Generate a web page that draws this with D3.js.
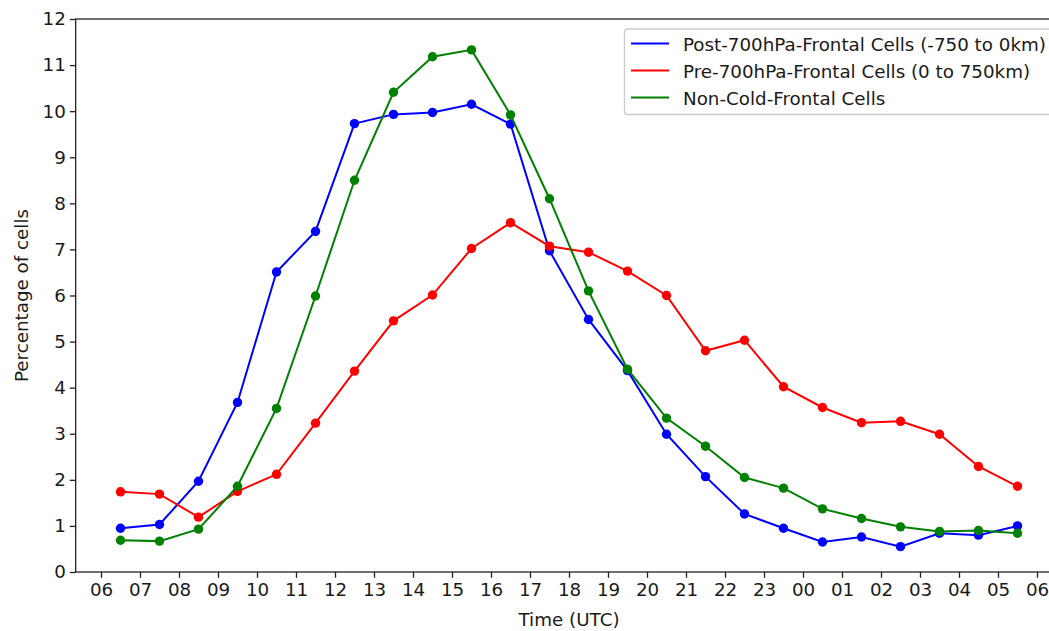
<!DOCTYPE html>
<html>
<head>
<meta charset="utf-8">
<script src="https://cdn.jsdelivr.net/npm/d3@7"></script>
<style>
  body { margin: 0; background: #fff; overflow: hidden; }
  svg { font-family: 'DejaVu Sans', sans-serif; display: block; }
</style>
</head>
<body>
<div id="chart"></div>
<script>
// hours (UTC, continuing past midnight) where each value is plotted
const hours = [6.5, 7.5, 8.5, 9.5, 10.5, 11.5, 12.5, 13.5, 14.5, 15.5, 16.5, 17.5,
               18.5, 19.5, 20.5, 21.5, 22.5, 23.5, 24.5, 25.5, 26.5, 27.5, 28.5, 29.5];

const tickHours = [6, 7, 8, 9, 10, 11, 12, 13, 14, 15, 16, 17, 18, 19, 20, 21, 22, 23,
                   24, 25, 26, 27, 28, 29, 30];
const tickLabels = ['06', '07', '08', '09', '10', '11', '12', '13', '14', '15', '16', '17',
                    '18', '19', '20', '21', '22', '23', '00', '01', '02', '03', '04', '05', '06'];

const postFrontal = [0.95, 1.03, 1.97, 3.68, 6.51, 7.39, 9.73, 9.93, 9.97, 10.15, 9.72, 6.97,
                     5.48, 4.37, 2.99, 2.07, 1.26, 0.95, 0.65, 0.76, 0.55, 0.84, 0.80, 1.00];
const preFrontal = [1.74, 1.69, 1.19, 1.75, 2.12, 3.23, 4.36, 5.45, 6.01, 7.02, 7.58, 7.07,
                    6.94, 6.53, 6.00, 4.80, 5.03, 4.02, 3.57, 3.24, 3.27, 2.99, 2.29, 1.86];
const nonFrontal = [0.69, 0.67, 0.93, 1.86, 3.55, 5.99, 8.50, 10.41, 11.18, 11.33, 9.92, 8.10,
                    6.10, 4.40, 3.34, 2.73, 2.05, 1.82, 1.37, 1.16, 0.98, 0.88, 0.90, 0.84];

const seriesNames = ['Post-700hPa-Frontal Cells (-750 to 0km)',
                     'Pre-700hPa-Frontal Cells (0 to 750km)',
                     'Non-Cold-Frontal Cells'];
const seriesColors = ['#0000ff', '#ff0000', '#008000'];

const yTicks = [0, 1, 2, 3, 4, 5, 6, 7, 8, 9, 10, 11, 12];

const W = 1049, H = 631;
const plotLeft = 75.65, plotRight = 1062.35, plotTop = 19, plotBottom = 572;
const fontSize = '18.3px';

function draw_chart() {
  const svg = d3.select('#chart')
    .append('svg')
    .attr('width', W)
    .attr('height', H);

  const x = d3.scaleLinear().domain([5.35, 30.65]).range([plotLeft, plotRight]);
  const y = d3.scaleLinear().domain([0, 12]).range([plotBottom, plotTop]);

  // Axes
  const xAxis = svg.append('g')
    .attr('transform', `translate(0, ${plotBottom})`)
    .call(d3.axisBottom(x)
      .tickValues(tickHours)
      .tickFormat((d, i) => tickLabels[i])
      .tickSize(5.8)
      .tickPadding(5));

  const yAxis = svg.append('g')
    .attr('transform', `translate(${plotLeft}, 0)`)
    .call(d3.axisLeft(y)
      .tickValues(yTicks)
      .tickSize(5.8)
      .tickPadding(4));

  [xAxis, yAxis].forEach(a => {
    a.select('.domain').remove();
    a.selectAll('line').attr('stroke', '#222').attr('stroke-width', 1.3);
    a.selectAll('text')
      .attr('fill', '#1a1a1a')
      .style('font-size', fontSize)
      .style('font-family', "'DejaVu Sans', sans-serif");
  });

  // frame
  svg.append('rect')
    .attr('x', plotLeft)
    .attr('y', plotTop)
    .attr('width', plotRight - plotLeft)
    .attr('height', plotBottom - plotTop)
    .attr('fill', 'none')
    .attr('stroke', '#222')
    .attr('stroke-width', 1.3);

  // Series
  const allSeries = [postFrontal, preFrontal, nonFrontal];
  const line = d3.line()
    .x((d, i) => x(hours[i]))
    .y(d => y(d));

  allSeries.forEach((values, k) => {
    const g = svg.append('g');
    g.append('path')
      .datum(values)
      .attr('fill', 'none')
      .attr('stroke', seriesColors[k])
      .attr('stroke-width', 2)
      .attr('d', line);
    g.selectAll('circle')
      .data(values)
      .enter()
      .append('circle')
      .attr('cx', (d, i) => x(hours[i]))
      .attr('cy', d => y(d))
      .attr('r', 4.7)
      .attr('fill', seriesColors[k]);
  });

  // Legend
  const legend = svg.append('g');
  legend.append('rect')
    .attr('x', 624.5)
    .attr('y', 29)
    .attr('width', 440)
    .attr('height', 85.5)
    .attr('rx', 3)
    .attr('fill', '#fff')
    .attr('fill-opacity', 0.8)
    .attr('stroke', '#cccccc')
    .attr('stroke-width', 1.3);

  seriesNames.forEach((name, k) => {
    const ly = 43.5 + k * 27;
    legend.append('line')
      .attr('x1', 631)
      .attr('x2', 669)
      .attr('y1', ly)
      .attr('y2', ly)
      .attr('stroke', seriesColors[k])
      .attr('stroke-width', 2);
    legend.append('text')
      .attr('x', 683)
      .attr('y', ly + 7)
      .attr('fill', '#1a1a1a')
      .style('font-size', fontSize)
      .text(name);
  });

  // Axis labels
  svg.append('text')
    .attr('x', (plotLeft + plotRight) / 2)
    .attr('y', 626)
    .attr('text-anchor', 'middle')
    .attr('fill', '#1a1a1a')
    .style('font-size', fontSize)
    .text('Time (UTC)');

  svg.append('text')
    .attr('transform', `translate(28, ${(plotTop + plotBottom) / 2}) rotate(-90)`)
    .attr('text-anchor', 'middle')
    .attr('fill', '#1a1a1a')
    .style('font-size', fontSize)
    .text('Percentage of cells');
}

draw_chart();
</script>
</body>
</html>
